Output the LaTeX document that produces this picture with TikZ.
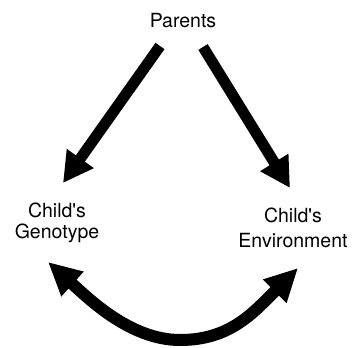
\documentclass[tikz,border=0pt]{standalone}
\usepackage{fontspec}
\setmainfont{TeX Gyre Heros}
\usetikzlibrary{arrows.meta}
\begin{document}
\begin{tikzpicture}[x=1pt,y=1pt,
  lbl/.style={font=\fontsize{19.5}{21}\selectfont, align=center, inner sep=0pt},
  bigarrow/.style={line width=11pt, -{Triangle[length=30pt,width=31pt]}},
  curvearrow/.style={line width=12pt, {Triangle[length=33pt,width=31pt]}-{Triangle[length=33pt,width=31pt]}}]
\useasboundingbox (0,0) rectangle (352,347);
\node[lbl, anchor=base] (par) at (183,319) {Parents};
\node[lbl] (geno) at (57,124.6) {Child\textquotesingle s\\Genotype};
\node[lbl, font=\fontsize{19.5}{24.5}\selectfont] (env) at (293,119) {Child\textquotesingle s\\Environment};
\coordinate (l1) at (160,301);
\coordinate (l2) at (63,164);
\coordinate (r1) at (203,300);
\coordinate (r2) at (290,159);
\coordinate (cs) at (48,85);
\coordinate (cm) at (180,7);
\coordinate (ce) at (298,79);
\draw[bigarrow] (l1) -- (l2);
\draw[bigarrow] (r1) -- (r2);
\draw[curvearrow] (cs) .. controls (88,49) and (130,7) .. (cm) .. controls (230,7) and (253,34) .. (ce);
\end{tikzpicture}
\end{document}
